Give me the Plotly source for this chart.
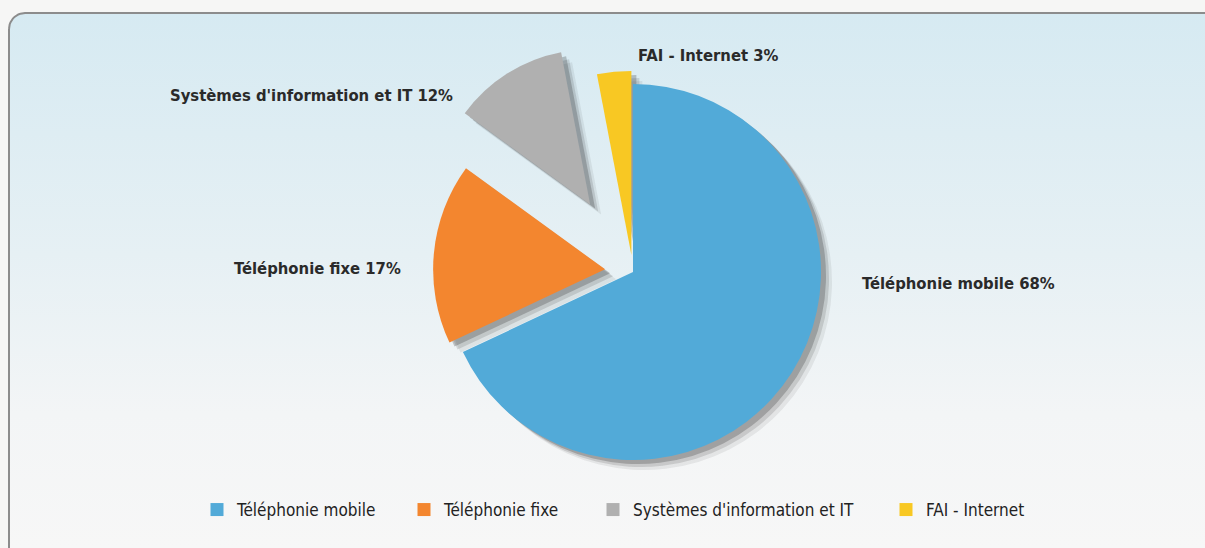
import numpy as np
import plotly.graph_objects as go

# ---- data ----
labels = ["Téléphonie mobile", "Téléphonie fixe", "Systèmes d'information et IT", "FAI - Internet"]
values = [68, 17, 12, 3]

# ---- styles ----
colors = ["#52aad8", "#f3862f", "#b0b0b0", "#f8c823"]
slice_radius = [188, 172, 155, 184]   # px, each slice drawn with its own radius
slice_offset = [0, 28, 80, 17]        # px, how far each slice is pulled out
FONT = "DejaVu Sans Condensed, Liberation Sans Narrow, Arial Narrow, sans-serif"
W, H = 1205, 548
CX, CY = 633, 272

def pie_domain(cx, cy, R):
    y0 = 1 - (cy + R) / H
    y1 = y0 + 2 * R / H
    return dict(x=[(cx - R) / W, (cx + R) / W], y=[max(0, y0), min(1, y1)])

fig = go.Figure()

# rounded background panel with vertical gradient
x0, y0b, x1, y1b, rad = 9, 13, 1230, 580, 16
t = np.linspace(0, np.pi / 2, 12)
px = list(x0 + rad - rad * np.cos(t)) + [x1, x1] + [x0, x0]
py = list(y0b + rad - rad * np.sin(t)) + [y0b, y1b] + [y1b, y0b + rad]
fig.add_trace(go.Scatter(
    x=px, y=py, mode="lines", fill="toself",
    line=dict(color="#8c8c8c", width=2),
    fillgradient=dict(type="vertical", start=13, stop=548,
                      colorscale=[[0, "#d6eaf2"], [0.45, "#e6f0f4"],
                                  [0.75, "#f3f5f6"], [1, "#f7f7f7"]]),
    hoverinfo="skip", showlegend=False))

def slice_trace(i, cols, dx=0, dy=0, hover=False):
    r = slice_radius[i]
    p = slice_offset[i] / r
    pull = [p if j == i else 0 for j in range(len(values))]
    return go.Pie(
        labels=labels, values=values, pull=pull, sort=False,
        direction="clockwise", rotation=0,
        marker=dict(colors=cols, line=dict(width=0)),
        textinfo="none", hoverinfo="label+percent" if hover else "skip",
        showlegend=False,
        domain=pie_domain(CX + dx, CY + dy, r + slice_offset[i]))

transparent = "rgba(0,0,0,0)"
# soft drop shadows
for dx, dy, a in [(11, 10, 0.08), (8, 7, 0.14), (5, 4, 0.24)]:
    for i in range(len(values)):
        cols = [f"rgba(35,35,35,{a})" if j == i else transparent for j in range(len(values))]
        fig.add_trace(slice_trace(i, cols, dx, dy))
# slices
for i in range(len(values)):
    cols = [colors[j] if j == i else transparent for j in range(len(values))]
    fig.add_trace(slice_trace(i, cols, hover=True))

# slice labels
label_pos = [(860, 283, "left"), (403, 268, "right"), (455, 95, "right"), (636, 56, "left")]
for (lx, ly, anchor), lab, val in zip(label_pos, labels, values):
    fig.add_annotation(x=lx / W, y=1 - ly / H, xref="paper", yref="paper",
                       xanchor=anchor, yanchor="middle", showarrow=False,
                       text=f"{lab} {val}%",
                       font=dict(family=FONT, size=16.5, color="#2a2a2a", weight="bold"))

# legend entries (one legend per category so spacing follows the reference)
legend_x = [197, 404, 593, 886]
legend_layout = {}
for i, (lab, col, lx) in enumerate(zip(labels, colors, legend_x)):
    name = "legend" if i == 0 else f"legend{i + 1}"
    fig.add_trace(go.Scatter(
        x=[None], y=[None], mode="markers", name=lab,
        marker=dict(symbol="square", size=13, color=col),
        legend=name, showlegend=True, hoverinfo="skip"))
    legend_layout[name] = dict(
        x=lx / W, xanchor="left", y=1 - 510 / H, yanchor="middle",
        font=dict(family=FONT, size=17, color="#222222"),
        bgcolor="rgba(0,0,0,0)")

fig.update_layout(
    width=W, height=H,
    margin=dict(l=0, r=0, t=0, b=0),
    paper_bgcolor="#f6f6f5", plot_bgcolor="rgba(0,0,0,0)",
    xaxis=dict(range=[0, W], visible=False, fixedrange=True),
    yaxis=dict(range=[H, 0], visible=False, fixedrange=True),
    showlegend=True,
    **legend_layout,
)

fig.write_html("out.html", config={"displayModeBar": False},
               post_script="document.body.style.margin='0';document.body.style.overflow='hidden';")
